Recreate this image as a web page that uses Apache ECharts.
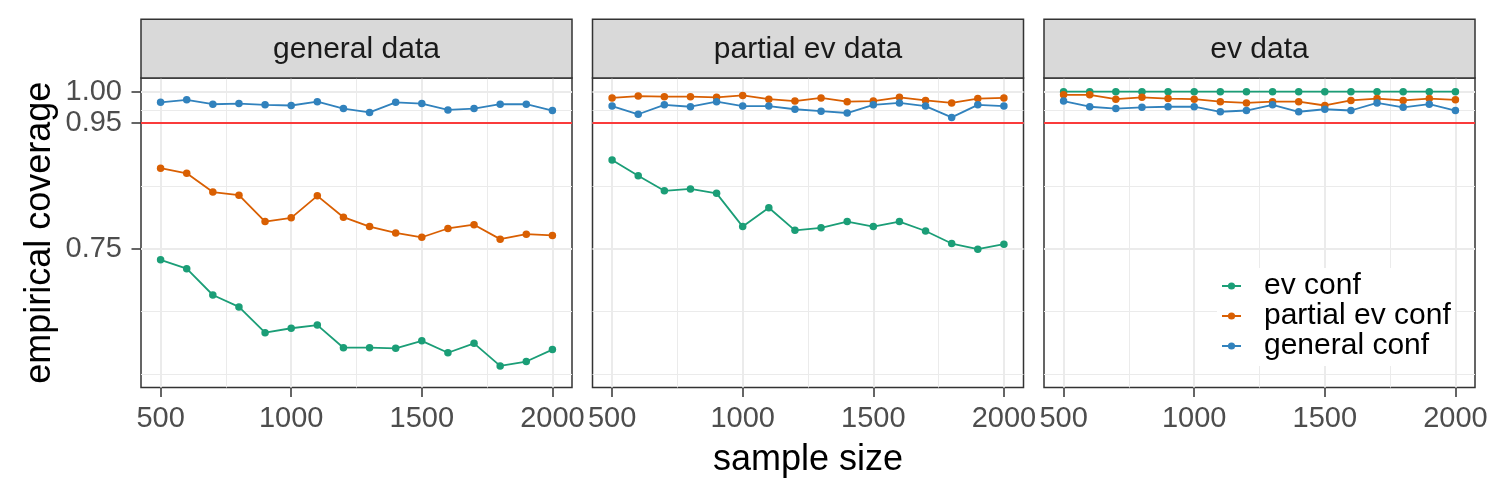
<!DOCTYPE html>
<html><head><meta charset="utf-8">
<script src="https://cdn.jsdelivr.net/npm/echarts@6/dist/echarts.min.js"></script>
<style>html,body{margin:0;padding:0;background:#fff}#c{width:1495px;height:498px}</style>
</head><body><div id="c"></div>
<script>
// ---------- data ----------
const panels = ['general data', 'partial ev data', 'ev data'];
const seriesNames = ['ev conf', 'partial ev conf', 'general conf'];
const sampleSizes = [500, 600, 700, 800, 900, 1000, 1100, 1200, 1300, 1400, 1500, 1600, 1700, 1800, 1900, 2000];

const generalData_evConf      = [0.732, 0.718, 0.676, 0.657, 0.616, 0.623, 0.628, 0.592, 0.592, 0.591, 0.603, 0.584, 0.599, 0.563, 0.570, 0.589];
const generalData_partialConf = [0.878, 0.870, 0.840, 0.835, 0.793, 0.799, 0.834, 0.800, 0.785, 0.775, 0.768, 0.782, 0.788, 0.765, 0.773, 0.771];
const generalData_generalConf = [0.983, 0.987, 0.980, 0.981, 0.979, 0.978, 0.984, 0.973, 0.967, 0.983, 0.981, 0.971, 0.973, 0.980, 0.980, 0.970];

const partialData_evConf      = [0.891, 0.866, 0.842, 0.845, 0.838, 0.785, 0.815, 0.779, 0.783, 0.793, 0.785, 0.793, 0.778, 0.758, 0.749, 0.757];
const partialData_partialConf = [0.990, 0.993, 0.992, 0.992, 0.991, 0.994, 0.988, 0.985, 0.990, 0.984, 0.985, 0.991, 0.986, 0.982, 0.989, 0.990];
const partialData_generalConf = [0.977, 0.964, 0.979, 0.976, 0.984, 0.977, 0.977, 0.972, 0.969, 0.966, 0.979, 0.982, 0.977, 0.959, 0.979, 0.977];

const evData_evConf      = [1.000, 1.000, 1.000, 1.000, 1.000, 1.000, 1.000, 1.000, 1.000, 1.000, 1.000, 1.000, 1.000, 1.000, 1.000, 1.000];
const evData_partialConf = [0.995, 0.995, 0.988, 0.991, 0.989, 0.988, 0.984, 0.982, 0.984, 0.984, 0.978, 0.986, 0.989, 0.986, 0.989, 0.987];
const evData_generalConf = [0.985, 0.976, 0.973, 0.975, 0.976, 0.976, 0.968, 0.970, 0.979, 0.968, 0.972, 0.970, 0.982, 0.975, 0.980, 0.970];

const nominalLevel = 0.95;
const yMajorBreaks = [0.75, 0.95, 1.00];
const yMinorBreaks = [0.55, 0.65, 0.85, 0.975];
const xMajorBreaks = [500, 1000, 1500, 2000];
const xMinorBreaks = [750, 1250, 1750];

const panelValues = [
  [generalData_evConf, generalData_partialConf, generalData_generalConf],
  [partialData_evConf, partialData_partialConf, partialData_generalConf],
  [evData_evConf, evData_partialConf, evData_generalConf]
];

// ---------- layout / style ----------
const FONT = 'Liberation Sans, Arial, Helvetica, sans-serif';
const colors = ['#1B9E77', '#D95F02', '#3182BD'];
const panelLefts = [141, 592.5, 1044];
const panelW = 431;
const panelTop = 78;
const panelH = 309.5;
const stripTop = 19.3;
const yMin = 0.5286, yMax = 1.0218;
const xMin = 425, xMax = 2075;

const grids = [], xAxes = [], yAxes = [], series = [], graphics = [];

panels.forEach((p, i) => {
  grids.push({
    left: panelLefts[i], top: panelTop, width: panelW, height: panelH,
    show: true, backgroundColor: '#fff', borderColor: '#333333', borderWidth: 1.5
  });
  xAxes.push({
    type: 'value', gridIndex: i, min: xMin, max: xMax,
    axisLine: {show: false},
    splitLine: {show: false},
    axisTick: {show: true, customValues: xMajorBreaks, length: 9.5, lineStyle: {color: '#333333', width: 1.5}},
    axisLabel: {customValues: xMajorBreaks, fontSize: 29, fontFamily: FONT, color: '#4D4D4D', margin: 17,
      formatter: v => String(Math.round(v))}
  });
  yAxes.push({
    type: 'value', gridIndex: i, min: yMin, max: yMax,
    axisLine: {show: false},
    splitLine: {show: false},
    axisTick: {show: i === 0, customValues: yMajorBreaks, length: 9.5, lineStyle: {color: '#333333', width: 1.5}},
    axisLabel: {show: i === 0, customValues: yMajorBreaks, fontSize: 29, fontFamily: FONT, color: '#4D4D4D', margin: 19,
      formatter: v => Number(v).toFixed(2)}
  });
  // background grid lines
  const gl = [];
  yMinorBreaks.forEach(v => gl.push({yAxis: v, lineStyle: {color: '#EBEBEB', width: 1, type: 'solid'}}));
  xMinorBreaks.forEach(v => gl.push({xAxis: v, lineStyle: {color: '#EBEBEB', width: 1, type: 'solid'}}));
  yMajorBreaks.forEach(v => gl.push({yAxis: v, lineStyle: {color: '#EBEBEB', width: 2, type: 'solid'}}));
  xMajorBreaks.forEach(v => gl.push({xAxis: v, lineStyle: {color: '#EBEBEB', width: 2, type: 'solid'}}));
  series.push({
    type: 'line', name: 'grid' + i, xAxisIndex: i, yAxisIndex: i, data: [], silent: true, z: 1,
    markLine: {silent: true, symbol: ['none', 'none'], label: {show: false}, z: 1, animation: false, data: gl}
  });
  series.push({
    type: 'line', name: 'ref' + i, xAxisIndex: i, yAxisIndex: i, data: [], silent: true, z: 2,
    markLine: {silent: true, symbol: ['none', 'none'], label: {show: false}, z: 2, animation: false,
      data: [{yAxis: nominalLevel, lineStyle: {color: '#FF0000', width: 1.7, type: 'solid'}}]}
  });
  seriesNames.forEach((name, k) => {
    series.push({
      type: 'line', name: name, xAxisIndex: i, yAxisIndex: i, z: 3 + k,
      data: sampleSizes.map((x, j) => [x, panelValues[i][k][j]]),
      symbol: 'circle', symbolSize: 7.5, showSymbol: true,
      lineStyle: {color: colors[k], width: 1.8},
      itemStyle: {color: colors[k]},
      emphasis: {disabled: true}
    });
  });
  // strip
  graphics.push({
    type: 'rect', z: 10,
    shape: {x: panelLefts[i], y: stripTop, width: panelW, height: panelTop - stripTop},
    style: {fill: '#D9D9D9', stroke: '#333333', lineWidth: 1.5}
  });
  graphics.push({
    type: 'text', z: 11, x: panelLefts[i] + panelW / 2, y: 50,
    style: {text: p, font: '30px ' + FONT, fill: '#1A1A1A', textAlign: 'center', textVerticalAlign: 'middle'}
  });
});

graphics.push({
  type: 'text', z: 11, x: panelLefts[0] + (panelLefts[2] + panelW - panelLefts[0]) / 2, y: 460,
  style: {text: 'sample size', font: '36px ' + FONT, fill: '#000', textAlign: 'center', textVerticalAlign: 'middle'}
});
graphics.push({
  type: 'text', z: 11, x: 40, y: panelTop + panelH / 2, rotation: Math.PI / 2,
  style: {text: 'empirical coverage', font: '36px ' + FONT, fill: '#000', textAlign: 'center', textVerticalAlign: 'middle'}
});

const chart = echarts.init(document.getElementById('c'), null, {renderer: 'canvas'});
chart.setOption({
  animation: false,
  backgroundColor: '#fff',
  grid: grids, xAxis: xAxes, yAxis: yAxes, series: series,
  legend: {
    data: seriesNames, orient: 'vertical', left: 1217, top: 268,
    itemGap: 0, itemWidth: 19, itemHeight: 9, selectedMode: false,
    backgroundColor: '#fff', padding: [3, 4, 5, 4],
    textStyle: {fontSize: 30, fontFamily: FONT, color: '#000', lineHeight: 27.5, padding: [0, 0, 0, 18]}
  },
  graphic: graphics
});
</script></body></html>
